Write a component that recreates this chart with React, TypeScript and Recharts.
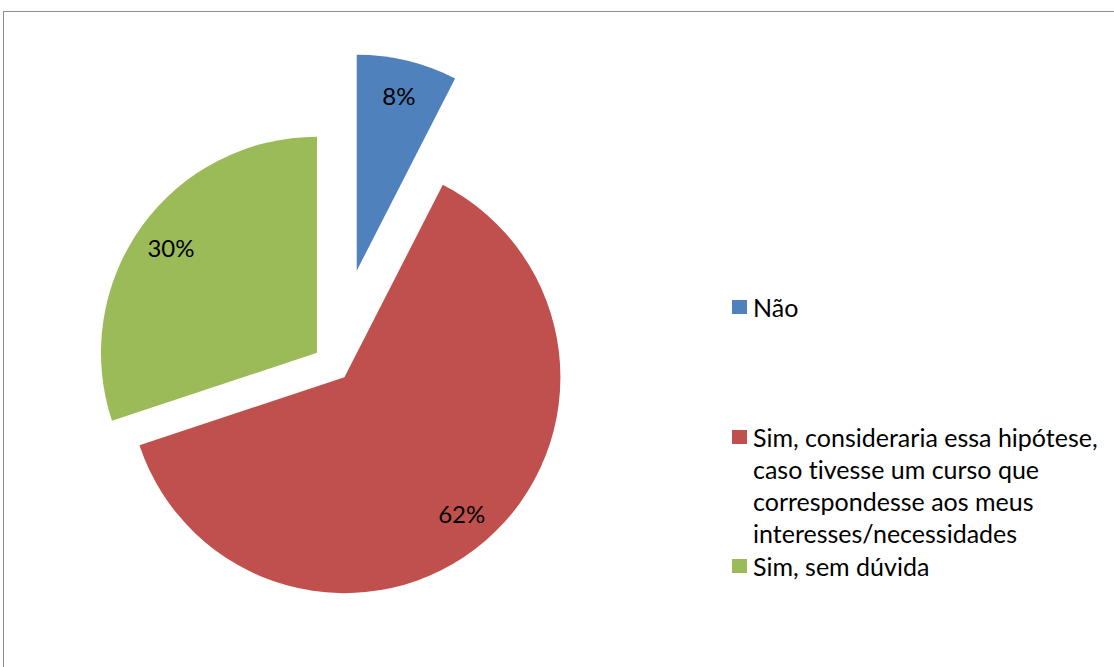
import { PieChart, Pie, Cell, Legend } from "recharts";

const categories = [
  "Não",
  "Sim, consideraria essa hipótese, caso tivesse um curso que correspondesse aos meus interesses/necessidades",
  "Sim, sem dúvida",
];
const responses = [7, 58, 28];

const COLORS = ["#4F81BD", "#C0504D", "#9BBB59"];
// how far each slice is pulled out of the pie
const EXPLODE = [97, 16, 21];
const FONT = "Lato, 'Open Sans', sans-serif";
const RADIAN = Math.PI / 180;

const data = categories.map((name, i) => ({ name, value: responses[i] }));
const total = responses.reduce((a, b) => a + b, 0);

// shift of every slice along its mid angle (starts at 12 o'clock, clockwise)
const offsets = (() => {
  let acc = 0;
  return responses.map((v, i) => {
    const mid = 90 - (360 * (acc + v / 2)) / total;
    acc += v;
    return {
      dx: EXPLODE[i] * Math.cos(mid * RADIAN),
      dy: -EXPLODE[i] * Math.sin(mid * RADIAN),
    };
  });
})();

const renderLabel = (props: any) => {
  const { cx, cy, midAngle, percent, index } = props;
  const r = 180;
  const x = cx + offsets[index].dx + r * Math.cos(-midAngle * RADIAN);
  const y = cy + offsets[index].dy + r * Math.sin(-midAngle * RADIAN);
  return (
    <text
      x={x}
      y={y}
      textAnchor="middle"
      dominantBaseline="central"
      fill="#000"
      fontSize={24}
      fontFamily={FONT}
    >
      {`${Math.round(percent * 100)}%`}
    </text>
  );
};

function LegendBox() {
  const gaps = [98, 1, 0];
  return (
    <div
      style={{
        fontFamily: FONT,
        fontSize: 25,
        lineHeight: "32px",
        color: "#000",
        fontVariantLigatures: "none",
      }}
    >
      {categories.map((name, i) => (
        <div key={name} style={{ display: "flex", alignItems: "flex-start", marginBottom: gaps[i] }}>
          <span
            style={{
              width: 15,
              height: 14,
              background: COLORS[i],
              marginTop: 9,
              marginRight: 6,
              flex: "none",
            }}
          />
          <span style={{ width: 360 }}>{name}</span>
        </div>
      ))}
    </div>
  );
}

export default function App() {
  return (
    <div
      style={{
        position: "absolute",
        left: 3,
        top: 11,
        width: 1120,
        height: 670,
        border: "1px solid #8c8c8c",
        background: "#fff",
      }}
    >
      <PieChart width={1120} height={670} margin={{ top: 0, right: 0, bottom: 0, left: 0 }}>
        <Pie
          data={data}
          dataKey="value"
          nameKey="name"
          cx={330}
          cy={353}
          outerRadius={216}
          startAngle={90}
          endAngle={-270}
          stroke="none"
          label={renderLabel}
          labelLine={false}
          isAnimationActive={false}
        >
          {data.map((_d, i) => (
            <Cell
              key={`cell-${i}`}
              fill={COLORS[i]}
              transform={`translate(${offsets[i].dx}, ${offsets[i].dy})`}
            />
          ))}
        </Pie>
        <Legend
          layout="vertical"
          align="right"
          verticalAlign="top"
          wrapperStyle={{ left: 728, top: 279, width: 385 }}
          content={() => <LegendBox />}
        />
      </PieChart>
    </div>
  );
}
